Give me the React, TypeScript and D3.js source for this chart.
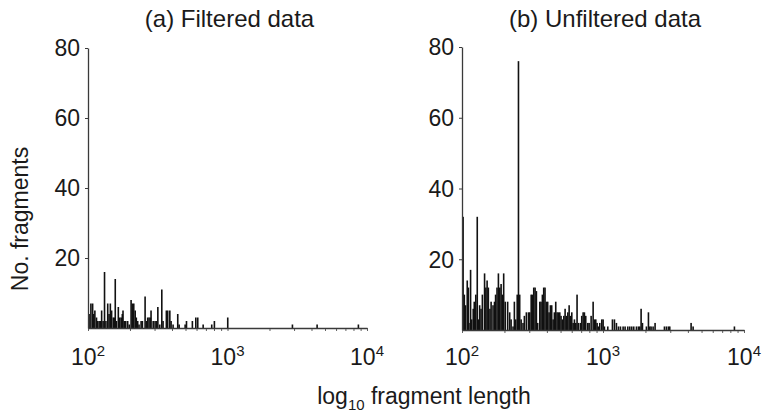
import React, { useEffect, useRef } from 'react';
import * as d3 from 'd3';

// fragment length (bp) and number of fragments
const filteredLengths = [
  100, 103, 106, 108, 110, 113, 115, 118, 121, 123, 126, 129, 132, 136, 139, 142, 145, 149, 152, 154,
  157, 162, 166, 170, 173, 175, 179, 183, 189, 194, 200, 204, 209, 214, 218, 223, 228, 236, 241, 252,
  258, 263, 269, 275, 278, 288, 297, 304, 311, 321, 332, 339, 358, 366, 379, 387, 400, 432, 442, 488,
  499, 550, 582, 601, 657, 757, 791, 986, 2868, 4310, 8520,
];
const filteredCounts = [
  4, 7, 7, 4, 5, 3, 2, 2, 2, 5, 2, 16, 2, 7, 4, 7, 5, 3, 3, 14,
  2, 6, 3, 3, 4, 5, 2, 2, 2, 1, 8, 7, 7, 5, 3, 2, 1, 2, 2, 9,
  2, 3, 3, 3, 5, 2, 2, 2, 6, 1, 11, 2, 5, 5, 5, 2, 1, 4, 1, 1,
  2, 2, 3, 3, 1, 1, 2, 3, 1, 1, 1,
];

const unfilteredLengths = [
  100, 102, 104, 107, 109, 110, 113, 115, 118, 120, 123, 126, 128, 131, 134, 137, 142, 145, 148, 151,
  155, 158, 163, 167, 170, 174, 178, 182, 186, 190, 194, 199, 207, 214, 219, 226, 231, 236, 242, 247,
  252, 258, 266, 272, 281, 291, 297, 304, 310, 317, 324, 331, 338, 350, 357, 365, 373, 381, 390, 398,
  407, 416, 425, 435, 444, 454, 464, 474, 485, 495, 506, 518, 529, 541, 553, 565, 577, 590, 603, 616,
  630, 643, 658, 680, 694, 710, 725, 741, 766, 783, 809, 836, 854, 873, 892, 912, 932, 963, 984, 1005,
  1062, 1146, 1184, 1223, 1264, 1306, 1364, 1409, 1472, 1521, 1571, 1623, 1696, 1752, 1791, 1830, 1871, 1996, 2063, 2108,
  2154, 2226, 2299, 2679, 2768, 2860, 2922, 4140, 4278, 8400,
];
const unfilteredCounts = [
  32, 10, 7, 14, 12, 2, 17, 3, 6, 8, 10, 32, 3, 7, 6, 10, 16, 12, 14, 12,
  6, 8, 7, 8, 10, 12, 16, 12, 13, 10, 16, 8, 8, 5, 3, 1, 8, 3, 10, 76,
  10, 3, 2, 4, 5, 5, 5, 10, 10, 12, 12, 11, 2, 8, 8, 10, 12, 12, 8, 8,
  5, 7, 7, 3, 5, 8, 5, 5, 5, 4, 3, 4, 6, 4, 5, 7, 4, 5, 2, 3,
  2, 10, 2, 2, 4, 5, 5, 4, 2, 2, 4, 8, 3, 3, 2, 1, 2, 3, 3, 1,
  1, 3, 3, 2, 1, 1, 1, 1, 1, 1, 1, 1, 1, 1, 1, 6, 2, 1, 5, 1,
  1, 1, 2, 1, 1, 1, 1, 2, 1, 1,
];

const yTicks = [20, 40, 60, 80];
const xMajor = [2, 3, 4]; // powers of ten

const panels = [
  { title: '(a) Filtered data', lengths: filteredLengths, counts: filteredCounts,
    left: 88, right: 367, top: 48, bottom: 328 },
  { title: '(b) Unfiltered data', lengths: unfilteredLengths, counts: unfilteredCounts,
    left: 462, right: 744, top: 47, bottom: 330 },
];

const FONT = '"Liberation Sans", Arial, Helvetica, sans-serif';
const AXIS = '#3a3a3a';

const App = () => {
  const svgRef = useRef<SVGSVGElement>(null);

  useEffect(() => {
    const svg = d3.select(svgRef.current);
    svg.selectAll('*').remove();
    svg.style('font-family', FONT);

    panels.forEach(p => {
      const x = d3.scaleLog().domain([100, 10000]).range([p.left, p.right]);
      const y = d3.scaleLinear().domain([0, 80]).range([p.bottom, p.top]);
      const g = svg.append('g');

      // bars
      g.selectAll('rect.bar')
        .data(p.lengths.map((l, i) => ({ l, c: p.counts[i] })))
        .enter().append('rect')
        .attr('class', 'bar')
        .attr('x', d => x(d.l) + 0.3)
        .attr('width', 1.6)
        .attr('y', d => y(d.c))
        .attr('height', d => y(0) - y(d.c))
        .attr('fill', '#111');

      // y axis
      const ya = g.append('g')
        .attr('transform', `translate(${p.left},0)`)
        .call(d3.axisLeft(y).tickValues(yTicks).tickSize(3).tickSizeOuter(0).tickFormat(() => ''));
      ya.select('.domain').attr('stroke', AXIS).attr('stroke-width', 1.3);
      ya.selectAll('.tick line').attr('stroke', AXIS);

      g.selectAll('text.ylab')
        .data(yTicks)
        .enter().append('text')
        .attr('class', 'ylab')
        .attr('x', p.left - 8)
        .attr('y', d => y(d))
        .attr('dy', '0.36em')
        .attr('text-anchor', 'end')
        .attr('font-size', 23)
        .attr('fill', '#1a1a1a')
        .text(d => d);

      // x axis with minor ticks
      const xa = g.append('g')
        .attr('transform', `translate(0,${p.bottom})`)
        .call(d3.axisBottom(x).tickValues(x.ticks()).tickSize(3).tickSizeOuter(0).tickFormat(() => ''));
      xa.select('.domain').attr('stroke', AXIS).attr('stroke-width', 1.3);
      xa.selectAll('.tick line').attr('stroke', AXIS).attr('stroke-width', 0.8);

      xMajor.forEach(e => {
        const t = g.append('text')
          .attr('x', x(Math.pow(10, e)))
          .attr('y', 365)
          .attr('text-anchor', 'middle')
          .attr('font-size', 23)
          .attr('fill', '#1a1a1a');
        t.append('tspan').text('10');
        t.append('tspan').attr('dy', -9).attr('font-size', 15).text(e);
      });

      // title
      svg.append('text')
        .attr('x', (p.left + p.right) / 2 + 2)
        .attr('y', 27)
        .attr('text-anchor', 'middle')
        .attr('font-size', 24)
        .attr('fill', '#1a1a1a')
        .text(p.title);
    });

    // axis titles
    svg.append('text')
      .attr('transform', 'translate(28,219) rotate(-90)')
      .attr('text-anchor', 'middle')
      .attr('font-size', 23)
      .attr('fill', '#1a1a1a')
      .text('No. fragments');

    const xl = svg.append('text')
      .attr('x', 424)
      .attr('y', 404)
      .attr('text-anchor', 'middle')
      .attr('font-size', 23)
      .attr('fill', '#1a1a1a');
    xl.append('tspan').text('log');
    xl.append('tspan').attr('dy', 6).attr('font-size', 15).text('10');
    xl.append('tspan').attr('dy', -6).text(' fragment length');
  }, []);

  return (
    <svg ref={svgRef} width={768} height={412}
      style={{ position: 'absolute', left: 0, top: 0, background: '#fff' }} />
  );
};

export default App;
